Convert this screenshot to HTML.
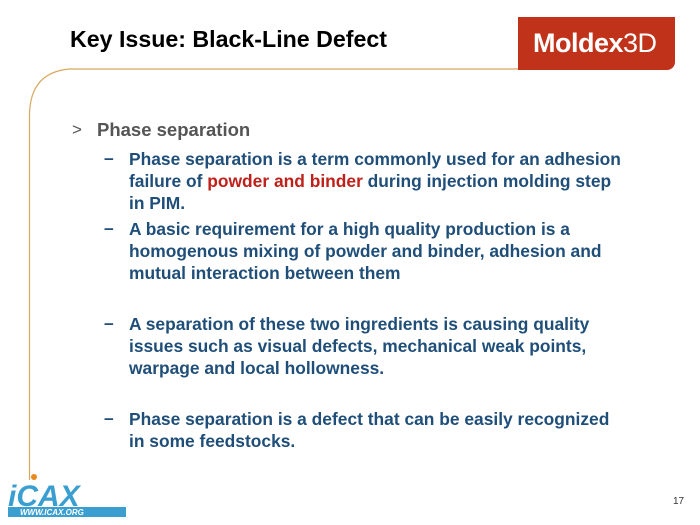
<!DOCTYPE html>
<html><head><meta charset="utf-8"><style>
body{margin:0;width:700px;height:525px;background:#fff;position:relative;overflow:hidden;font-family:"Liberation Sans",Arial,sans-serif;}
.t{position:absolute;white-space:nowrap;font-weight:bold;}
.title{left:70px;top:26px;font-size:23.2px;color:#000;}
.logo{position:absolute;left:518px;top:17px;width:157px;height:53px;background:#c0321a;border-bottom-right-radius:8px;}
.logo span{position:absolute;left:15px;top:11px;color:#fff;font-size:27px;font-weight:bold;letter-spacing:-0.5px}
.logo span i{font-style:normal;font-weight:normal}
.b{font-size:17.4px;color:#1f4e79;line-height:22px;}
.d{font-size:17.4px;color:#1f4e79;}
.r{color:#c0201a}
</style></head><body>
<svg width="700" height="525" style="position:absolute;left:0;top:0">
<path d="M520 69 L70 69 Q30 72 29.5 115 L29.5 480" fill="none" stroke="#d8a860" stroke-width="1.2"/>
<g font-family="Liberation Sans" font-weight="bold" font-style="italic">
<text x="8" y="506" font-size="30" fill="#3a9fd0">iCAX</text>
<rect x="8" y="507" width="118" height="10" fill="#3a9fd0"/>
<text x="20" y="515" font-size="8" fill="#fff">WWW.ICAX.ORG</text>
<circle cx="34" cy="477" r="3" fill="#e88a20"/>
</g>
</svg>
<div class="t title">Key Issue: Black-Line Defect</div>
<div class="logo"><span>Moldex<i>3D</i></span></div>
<div class="t" style="left:72px;top:120px;font-size:17px;color:#555;font-weight:normal">&gt;</div>
<div class="t" style="left:97px;top:119px;font-size:18.5px;color:#555">Phase separation</div>
<div class="t d" style="left:104px;top:148px">–</div>
<div class="t b" style="left:129px;top:148px">Phase separation is a term commonly used for an adhesion<br>failure of <span class="r">powder and binder</span> during injection molding step<br>in PIM.</div>
<div class="t d" style="left:104px;top:218px">–</div>
<div class="t b" style="left:129px;top:218px">A basic requirement for a high quality production is a<br>homogenous mixing of powder and binder, adhesion and<br>mutual interaction between them</div>
<div class="t d" style="left:104px;top:313px">–</div>
<div class="t b" style="left:129px;top:313px">A separation of these two ingredients is causing quality<br>issues such as visual defects, mechanical weak points,<br>warpage and local hollowness.</div>
<div class="t d" style="left:104px;top:408px">–</div>
<div class="t b" style="left:129px;top:408px">Phase separation is a defect that can be easily recognized<br>in some feedstocks.</div>
<div class="t" style="left:673px;top:496px;font-size:10px;color:#333;font-weight:normal">17</div>
</body></html>
